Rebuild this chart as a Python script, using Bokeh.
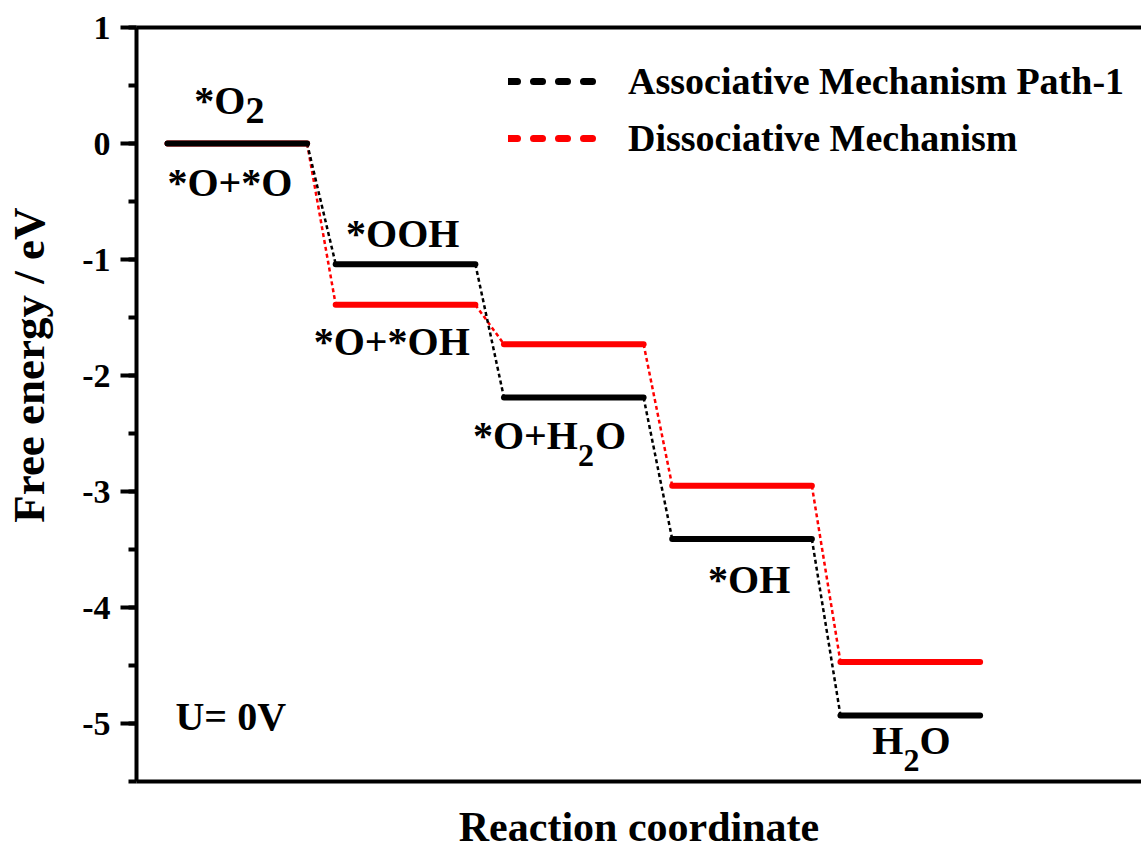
from bokeh.plotting import figure
from bokeh.models import (LinearAxis, FixedTicker, SingleIntervalTicker, Range1d,
                          Legend, LegendItem, Label, ColumnDataSource)
from bokeh.embed import file_html
from bokeh.resources import INLINE

# ---------------- data ----------------
black_energy = [0.00, -1.04, -2.19, -3.41, -4.93]   # Associative Mechanism Path-1
red_energy = [0.00, -1.39, -1.73, -2.95, -4.47]     # Dissociative Mechanism
series_names = ["Associative Mechanism Path-1", "Dissociative Mechanism"]
y_ticks = [-5, -4, -3, -2, -1, 0, 1]
y_limits = (-5.5, 1.0)
x_label = "Reaction coordinate"
y_label = "Free energy / eV"
potential_note = "U= 0V"

FONT = "Liberation Serif"
LEVEL_W = 0.83          # width of an energy level in step units
PX_X = 168.25           # pixels per step (for offset bookkeeping)
FRAME_W = 1005
X_START = -0.184
BL = 13                 # baseline correction for labels (px)

p = figure(width=1141, height=853,
           x_range=Range1d(X_START, X_START + FRAME_W / PX_X),
           y_range=Range1d(*y_limits),
           output_backend="svg", toolbar_location=None,
           min_border_left=136, min_border_right=0,
           min_border_top=27, min_border_bottom=72)
p.outline_line_color = None
p.xgrid.visible = False
p.ygrid.visible = False
p.background_fill_color = "white"
p.border_fill_color = "white"

# y axis
ya = p.yaxis[0]
ya.ticker = SingleIntervalTicker(interval=1, num_minor_ticks=2)
ya.major_label_overrides = {t: str(t) for t in y_ticks}
ya.axis_line_width = 4
ya.major_tick_line_width = 4
ya.minor_tick_line_width = 4
ya.major_tick_in = 0
ya.major_tick_out = 16
ya.minor_tick_in = 0
ya.minor_tick_out = 8
ya.major_label_standoff = 10
ya.major_label_text_font = FONT
ya.major_label_text_font_size = "34px"
ya.major_label_text_font_style = "bold"
ya.major_label_text_color = "black"
# leading no-break spaces lift the title a little above the frame centre
ya.axis_label = "\u00a0" * 7 + y_label
ya.axis_label_text_font = FONT
ya.axis_label_text_font_size = "45px"
ya.axis_label_text_font_style = "bold"
ya.axis_label_text_color = "black"
ya.axis_label_standoff = 25

# x axis
xa = p.xaxis[0]
xa.ticker = FixedTicker(ticks=[])
xa.axis_line_width = 4
xa.major_tick_in = 0
xa.major_tick_out = 0
xa.minor_tick_in = 0
xa.minor_tick_out = 0
xa.major_label_standoff = 0
xa.axis_label = x_label
xa.axis_label_text_font = FONT
xa.axis_label_text_font_size = "42px"
xa.axis_label_text_font_style = "bold"
xa.axis_label_text_color = "black"
xa.axis_label_standoff = 22

top = LinearAxis(ticker=FixedTicker(ticks=[]), axis_line_width=4,
                 major_tick_in=0, major_tick_out=0, minor_tick_in=0,
                 minor_tick_out=0, major_label_standoff=0)
p.add_layout(top, "above")


def level_source(energies):
    n = len(energies)
    return ColumnDataSource(dict(x0=[i for i in range(n)],
                                 x1=[i + LEVEL_W for i in range(n)],
                                 y=energies))


def connector_source(energies):
    n = len(energies)
    return ColumnDataSource(dict(
        x0=[i + LEVEL_W for i in range(n - 1)],
        x1=[i + 1 for i in range(n - 1)],
        y0=energies[:-1],
        y1=energies[1:]))


for energies, color in ((red_energy, "#ff0000"), (black_energy, "#000000")):
    p.segment(x0="x0", y0="y0", x1="x1", y1="y1", source=connector_source(energies),
              line_color=color, line_width=2.5, line_dash="4 3")
for energies, color in ((red_energy, "#ff0000"), (black_energy, "#000000")):
    p.segment(x0="x0", y0="y", x1="x1", y1="y", source=level_source(energies),
              line_color=color, line_width=6, line_cap="round")

# legend (thick dashed samples; renderers hold no visible points)
nan = float("nan")
leg_b = p.line(x=[nan], y=[nan], line_color="black", line_width=7,
               line_dash="9 16", line_cap="round")
leg_r = p.line(x=[nan], y=[nan], line_color="#ff0000", line_width=7,
               line_dash="9 16", line_cap="round")
legend = Legend(items=[LegendItem(label=series_names[0], renderers=[leg_b]),
                       LegendItem(label=series_names[1], renderers=[leg_r])],
                location=(372, 621), glyph_width=92, glyph_height=44,
                label_height=44, label_standoff=28, spacing=13, padding=0,
                margin=0, border_line_color=None, background_fill_alpha=0,
                label_text_font=FONT, label_text_font_size="38px",
                label_text_font_style="bold", label_text_color="black")
p.add_layout(legend)


def add_text(x, y, text, dx, dy, size="40px", align="left"):
    p.add_layout(Label(x=x, y=y, x_offset=dx, y_offset=dy + BL, text=text,
                       text_font=FONT, text_font_size=size, text_font_style="bold",
                       text_color="black", text_align=align,
                       text_baseline="alphabetic"))


# state labels, anchored at the start of each level
add_text(0, black_energy[0], "*O", 78, 30, align="right")
add_text(0, black_energy[0], "2", 78, 20, size="38px")
add_text(0, black_energy[0], "*O+*O", 0, -52)
add_text(1, black_energy[1], "*OOH", 67, 18, align="center")
add_text(1, red_energy[1], "*O+*OH", -22, -50)
add_text(2, black_energy[2], "*O+H", 74, -51, align="right")
add_text(2, black_energy[2], "2", 74, -71, size="32px")
add_text(2, black_energy[2], "O", 91, -51)
add_text(3, black_energy[3], "*OH", 77, -53, align="center")
add_text(4, black_energy[4], "H", 63, -38, align="right")
add_text(4, black_energy[4], "2", 63, -58, size="32px")
add_text(4, black_energy[4], "O", 79, -38)
add_text(0, -5.0, potential_note, 8, -6)

open("out.html", "w").write(file_html(p, INLINE))
